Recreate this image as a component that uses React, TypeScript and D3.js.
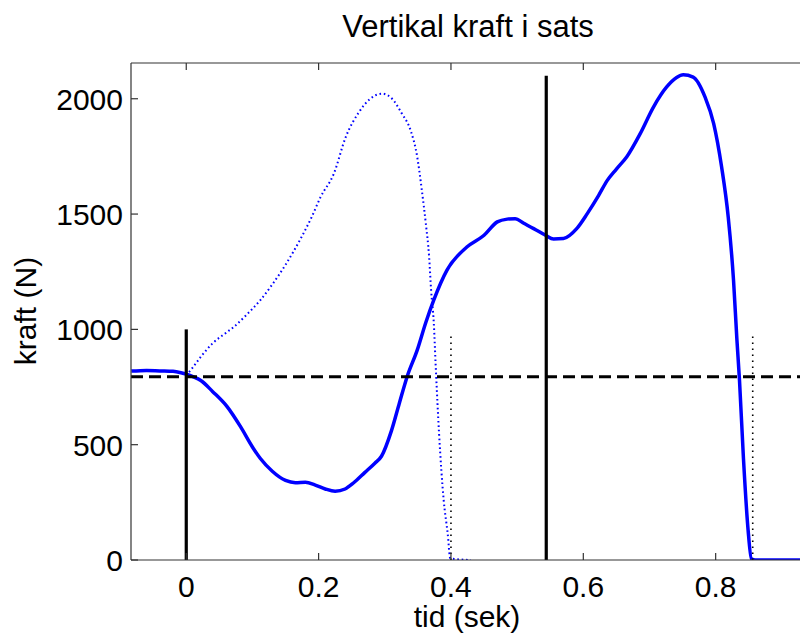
import React, { useRef, useEffect } from "react";
import * as d3 from "d3";

// solid curve (kraftplatta)
const solidTime = [
  -0.083, -0.06, -0.04, -0.02, -0.008, 0, 0.01, 0.022, 0.04, 0.062, 0.082, 0.1,
  0.112, 0.13, 0.15, 0.165, 0.18, 0.195, 0.21, 0.225, 0.24, 0.253, 0.27, 0.285,
  0.295, 0.31, 0.322, 0.334, 0.349, 0.362, 0.374, 0.394, 0.424, 0.45, 0.47,
  0.485, 0.497, 0.51, 0.525, 0.543, 0.555, 0.57, 0.59, 0.606, 0.623, 0.636,
  0.65, 0.666, 0.686, 0.706, 0.726, 0.741, 0.751, 0.766, 0.784, 0.797, 0.809,
  0.819, 0.827, 0.832, 0.836, 0.842, 0.849, 0.854, 0.86, 0.94,
];
const solidForce = [
  819, 822, 820, 818, 812, 806, 795, 778, 730, 664, 578, 490,
  440, 385, 345, 335, 337, 325, 308, 298, 308, 335, 380, 420,
  450, 560, 680, 797, 910, 1030, 1127, 1257, 1357, 1408, 1466,
  1478, 1480, 1460, 1437, 1408, 1392, 1394, 1437, 1502, 1580, 1645,
  1695, 1750, 1849, 1964, 2051, 2092, 2104, 2094, 2007, 1892, 1704,
  1487, 1213, 960, 780, 440, 130, 5, 0, 0,
];

// dotted curve
const dottedTime = [
  0, 0.01, 0.022, 0.04, 0.06, 0.072, 0.09, 0.112, 0.13, 0.15, 0.173, 0.19,
  0.203, 0.223, 0.241, 0.261, 0.278, 0.296, 0.311, 0.326, 0.339, 0.349, 0.356,
  0.362, 0.367, 0.37, 0.374, 0.377, 0.382, 0.389, 0.395, 0.399, 0.43,
];
const dottedForce = [
  800, 835, 881, 940, 985, 1011, 1060, 1127, 1195, 1280, 1394, 1490,
  1574, 1675, 1834, 1942, 2000, 2022, 2000, 1935, 1863, 1748, 1603,
  1459, 1314, 1170, 1030, 838, 549, 260, 116, 7, 0,
];

const xTicks = [0, 0.2, 0.4, 0.6, 0.8];
const yTicks = [0, 500, 1000, 1500, 2000];

// markers: [time, top force]
const solidMarkers = [[0, 1000], [0.544, 2100]];
const dottedMarkers = [[0.4, 980], [0.856, 980]];
const bodyWeight = 795;

const App = () => {
  const ref = useRef<SVGSVGElement>(null);

  useEffect(() => {
    const svg = d3.select(ref.current);
    svg.selectAll("*").remove();

    const width = 800;
    const height = 635;
    const margin = { top: 63, right: -5, bottom: 75, left: 131 };
    const font = "'Liberation Sans', Arial, sans-serif";

    const x = d3.scaleLinear()
      .domain([-0.0835, 0.935])
      .range([margin.left, width - margin.right]);
    const y = d3.scaleLinear()
      .domain([0, 2155])
      .range([height - margin.bottom, margin.top]);

    svg.attr("width", width).attr("height", height).style("background", "#fff");

    svg.append("defs").append("clipPath").attr("id", "plot-clip")
      .append("rect")
      .attr("x", margin.left)
      .attr("y", margin.top)
      .attr("width", width - margin.right - margin.left)
      .attr("height", height - margin.bottom - margin.top);

    const plot = svg.append("g").attr("clip-path", "url(#plot-clip)");

    const line = d3.line<number>()
      .x(d => x(d))
      .curve(d3.curveMonotoneX);

    plot.append("path")
      .datum(dottedTime)
      .attr("fill", "none")
      .attr("stroke", "#0000ff")
      .attr("stroke-width", 2)
      .attr("stroke-dasharray", "1.6,2.8")
      .attr("d", line.y((d, i) => y(dottedForce[i])));

    plot.append("path")
      .datum(solidTime)
      .attr("fill", "none")
      .attr("stroke", "#0000ff")
      .attr("stroke-width", 3.5)
      .attr("stroke-linejoin", "round")
      .attr("d", line.y((d, i) => y(solidForce[i])));

    dottedMarkers.forEach(([t, f]) => {
      plot.append("line")
        .attr("x1", x(t)).attr("x2", x(t))
        .attr("y1", y(0)).attr("y2", y(f))
        .attr("stroke", "#000")
        .attr("stroke-width", 1.6)
        .attr("stroke-dasharray", "1.5,4.5");
    });

    plot.append("line")
      .attr("x1", margin.left).attr("x2", width)
      .attr("y1", y(bodyWeight)).attr("y2", y(bodyWeight))
      .attr("stroke", "#000")
      .attr("stroke-width", 3)
      .attr("stroke-dasharray", "12,6");

    solidMarkers.forEach(([t, f]) => {
      plot.append("line")
        .attr("x1", x(t)).attr("x2", x(t))
        .attr("y1", y(0)).attr("y2", y(f))
        .attr("stroke", "#000")
        .attr("stroke-width", 3.2);
    });

    // axes box (left, top, bottom) with inward ticks
    const axisColor = "#333";
    const tickLen = 7;
    const axes = svg.append("g").attr("stroke", axisColor).attr("stroke-width", 1.2);
    axes.append("line")
      .attr("x1", margin.left).attr("x2", margin.left)
      .attr("y1", margin.top).attr("y2", y(0));
    axes.append("line")
      .attr("x1", margin.left).attr("x2", width)
      .attr("y1", margin.top).attr("y2", margin.top);
    axes.append("line")
      .attr("x1", margin.left).attr("x2", width)
      .attr("y1", y(0)).attr("y2", y(0));

    xTicks.forEach(t => {
      axes.append("line")
        .attr("x1", x(t)).attr("x2", x(t))
        .attr("y1", margin.top).attr("y2", margin.top + tickLen);
      axes.append("line")
        .attr("x1", x(t)).attr("x2", x(t))
        .attr("y1", y(0)).attr("y2", y(0) - tickLen);
    });
    yTicks.forEach(v => {
      axes.append("line")
        .attr("x1", margin.left).attr("x2", margin.left + tickLen)
        .attr("y1", y(v)).attr("y2", y(v));
    });

    const labels = svg.append("g")
      .style("font-family", font)
      .style("font-size", "30px")
      .attr("fill", "#000");

    xTicks.forEach(t => {
      labels.append("text")
        .attr("x", x(t))
        .attr("y", 597)
        .attr("text-anchor", "middle")
        .text(d3.format("")(t));
    });
    yTicks.forEach(v => {
      labels.append("text")
        .attr("x", 123)
        .attr("y", y(v) + 11)
        .attr("text-anchor", "end")
        .text(v);
    });

    labels.append("text")
      .attr("x", 468)
      .attr("y", 37)
      .attr("text-anchor", "middle")
      .style("font-size", "31px")
      .text("Vertikal kraft i sats");

    labels.append("text")
      .attr("x", 467)
      .attr("y", 627)
      .attr("text-anchor", "middle")
      .text("tid (sek)");

    labels.append("text")
      .attr("transform", "rotate(-90)")
      .attr("x", -311)
      .attr("y", 36)
      .attr("text-anchor", "middle")
      .text("kraft (N)");
  }, []);

  return (
    <div style={{ position: "absolute", left: 0, top: 0 }}>
      <svg ref={ref}></svg>
    </div>
  );
};

export default App;
